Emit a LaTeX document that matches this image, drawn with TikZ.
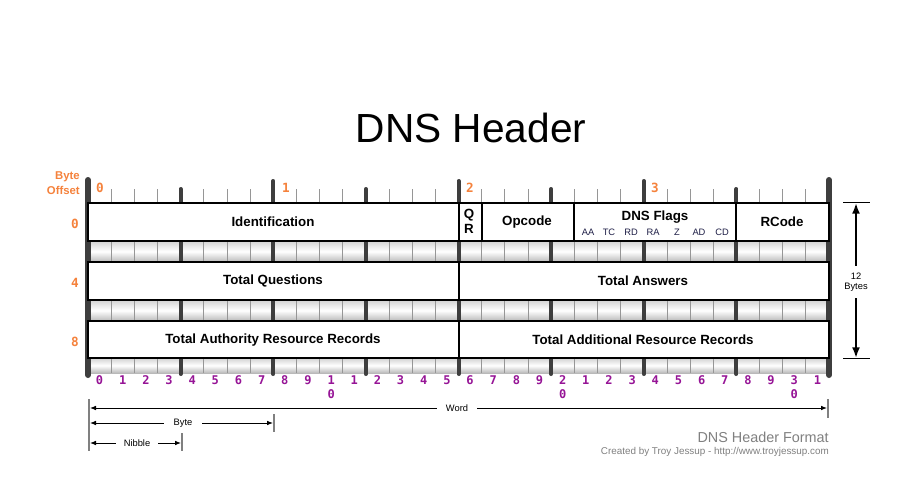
\documentclass[tikz,border=0pt]{standalone}
\usepackage{fontspec}
\setmainfont{Liberation Sans}
\newfontfamily\monof{DejaVu Sans Mono}
\usetikzlibrary{arrows.meta}
\definecolor{orng}{RGB}{245,130,60}
\definecolor{purp}{RGB}{150,20,150}
\definecolor{barc}{RGB}{62,62,62}
\definecolor{tickc}{RGB}{150,150,150}
\definecolor{flagc}{RGB}{30,30,70}
\definecolor{footc}{RGB}{128,128,128}
\begin{document}
\begin{tikzpicture}[x=0.75pt,y=-0.75pt,
  fld/.style={draw=black,line width=1.5pt,fill=white},
  lbl/.style={font=\bfseries\fontsize{10}{12}\selectfont,inner sep=0pt},
  flag/.style={font=\fontsize{7}{8}\selectfont,text=flagc,inner sep=0pt},
  minortick/.style={draw=tickc,line width=0.6pt},
  majortick/.style={draw=barc,line width=3pt,line cap=round},
  sidebar/.style={draw=barc,line width=4.5pt,line cap=round},
  bitnum/.style={font=\monof\bfseries\fontsize{9}{10}\selectfont,text=purp,inner sep=0pt},
  offnum/.style={font=\monof\bfseries\fontsize{9.5}{10}\selectfont,text=orng,inner sep=0pt},
  small/.style={font=\fontsize{7}{8}\selectfont,inner sep=0pt},
  dimline/.style={line width=0.7pt,{Latex[length=4.5pt,width=3.5pt]}-{Latex[length=4.5pt,width=3.5pt]}},
  gapl/.style={small,fill=white,inner xsep=7pt,inner ysep=1pt},
  guide/.style={draw=gray,line width=0.8pt}]
\useasboundingbox[fill=white] (0,0) rectangle (911,478);
\def\bw{23.156}
% title
\node[font=\fontsize{30.5}{34}\selectfont] (title) at (471,128) {DNS Header};
% byte offset
\node[anchor=east,font=\bfseries\fontsize{8.5}{9}\selectfont,text=orng,inner sep=0pt] (bo1) at (80,177) {Byte};
\node[anchor=east,font=\bfseries\fontsize{8.5}{9}\selectfont,text=orng,inner sep=0pt] (bo2) at (80,190) {Offset};
% bands
\foreach \ya/\yb in {241/262,300/321,358/373}{
  \shade[top color=gray!35,bottom color=gray!55,middle color=white] (88,\ya) rectangle (829,\yb);
  \foreach \i in {1,...,31}{
    \pgfmathsetmacro\xx{88+\i*\bw}
    \draw[minortick] (\xx,\ya) -- (\xx,\yb);
  }
}
% top ruler minor ticks
\foreach \i in {1,...,31}{
  \pgfmathsetmacro\xx{88+\i*\bw}
  \draw[minortick] (\xx,189) -- (\xx,203);
}
% nibble ticks
\foreach \i in {4,8,...,28}{
  \pgfmathsetmacro\xx{88+\i*\bw}
  \pgfmathtruncatemacro\isbyte{mod(\i,8)==0}
  \ifnum\isbyte=1
    \draw[majortick] (\xx,181) -- (\xx,374);
  \else
    \draw[majortick] (\xx,189) -- (\xx,374);
  \fi
}
% side bars
\draw[sidebar] (88,180) -- (88,375);
\draw[sidebar] (829,180) -- (829,375);
% byte labels
\node[offnum] (b0) at (100,188) {0};
\node[offnum] (b1) at (286,188) {1};
\node[offnum] (b2) at (470,188) {2};
\node[offnum] (b3) at (655,188) {3};
% row offset labels
\node[offnum] (r0) at (75,224) {0};
\node[offnum] (r4) at (75,283) {4};
\node[offnum] (r8) at (75,342) {8};
% row 0
\draw[fld] (88,203) rectangle (829,241);
\foreach \i in {16,17,21,28}{
  \pgfmathsetmacro\xx{88+\i*\bw}
  \draw[black,line width=1.5pt] (\xx,203) -- (\xx,241);
}
\node[lbl] (ident) at (273,222) {Identification};
\node[lbl] (q) at (469,215) {Q};
\node[lbl] (r) at (469,229) {R};
\node[lbl] (opc) at (527,222) {Opcode};
\node[lbl] (flags) at (655,217) {DNS Flags};
\node[flag] (aa) at (588,232) {AA};
\node[flag] (tc) at (609,232) {TC};
\node[flag] (rd) at (631,232) {RD};
\node[flag] (ra) at (653,232) {RA};
\node[flag] (z) at (677,232) {Z};
\node[flag] (ad) at (699,232) {AD};
\node[flag] (cd) at (722,232) {CD};
\node[lbl] (rcode) at (782,222) {RCode};
% row 1
\draw[fld] (88,262) rectangle (829,300);
\draw[black,line width=1.5pt] (458.5,262) -- (458.5,300);
\node[lbl] (tq) at (273,281) {Total Questions};
\node[lbl] (ta) at (643,281) {Total Answers};
% row 2
\draw[fld] (88,321) rectangle (829,358);
\draw[black,line width=1.5pt] (458.5,321) -- (458.5,358);
\node[lbl] (tau) at (273,340) {Total Authority Resource Records};
\node[lbl] (tad) at (643,340) {Total Additional Resource Records};
% bit numbers
\foreach \i in {0,...,31}{
  \pgfmathsetmacro\xx{88+(\i+0.5)*\bw}
  \pgfmathtruncatemacro\tens{(mod(\i,10)==0)&&(\i>0)}
  \pgfmathtruncatemacro\dd{mod(\i,10)}
  \ifnum\tens=1
    \pgfmathtruncatemacro\tt{\i/10}
    \node[bitnum] (bit\i) at (\xx,380) {\tt};
    \node[bitnum] (bitz\i) at (\xx,394) {0};
  \else
    \node[bitnum] (bit\i) at (\xx,380) {\dd};
  \fi
}
% 12 bytes
\coordinate (d1a) at (843,202.5);
\coordinate (d1b) at (870,202.5);
\coordinate (d2a) at (843,358.5);
\coordinate (d2b) at (870,358.5);
\coordinate (dt) at (856,203);
\coordinate (db) at (856,358);
\draw[line width=1.2pt] (d1a) -- (d1b);
\draw[line width=1.2pt] (d2a) -- (d2b);
\draw[line width=1.5pt,{Latex[length=8pt,width=6pt]}-{Latex[length=8pt,width=6pt]}] (dt) -- (db);
\node[small,fill=white,inner ysep=5pt,align=center] (twelve) at (856,282) {12\\[-0.5pt]Bytes};
% word / byte / nibble
\coordinate (g0a) at (89,399);
\coordinate (g0b) at (89,451);
\draw[guide] (g0a) -- (g0b);
\coordinate (wa) at (90,408);
\coordinate (wb) at (827,408);
\coordinate (wt1) at (828,399);
\coordinate (wt2) at (828,418);
\draw[guide] (wt1) -- (wt2);
\draw[dimline] (wa) -- (wb);
\node[gapl] (word) at (457,408) {Word};
\coordinate (ba) at (90,423);
\coordinate (bb) at (273,423);
\coordinate (bt1) at (274,414);
\coordinate (bt2) at (274,432);
\draw[guide] (bt1) -- (bt2);
\draw[dimline] (ba) -- (bb);
\node[gapl] (byte) at (183,423) {Byte};
\coordinate (na) at (90,443);
\coordinate (nb) at (181,443);
\coordinate (nt1) at (182,433);
\coordinate (nt2) at (182,451);
\draw[guide] (nt1) -- (nt2);
\draw[dimline] (na) -- (nb);
\node[gapl,inner xsep=6pt] (nibble) at (137,443) {Nibble};
% footer
\node[anchor=east,font=\fontsize{10.8}{12}\selectfont,text=footc,inner sep=0pt] (fmt) at (829,437) {DNS Header Format};
\node[anchor=east,font=\fontsize{7.4}{8}\selectfont,text=footc,inner sep=0pt] (cred) at (829,452) {Created by Troy Jessup - http://www.troyjessup.com};
\end{tikzpicture}
\end{document}
